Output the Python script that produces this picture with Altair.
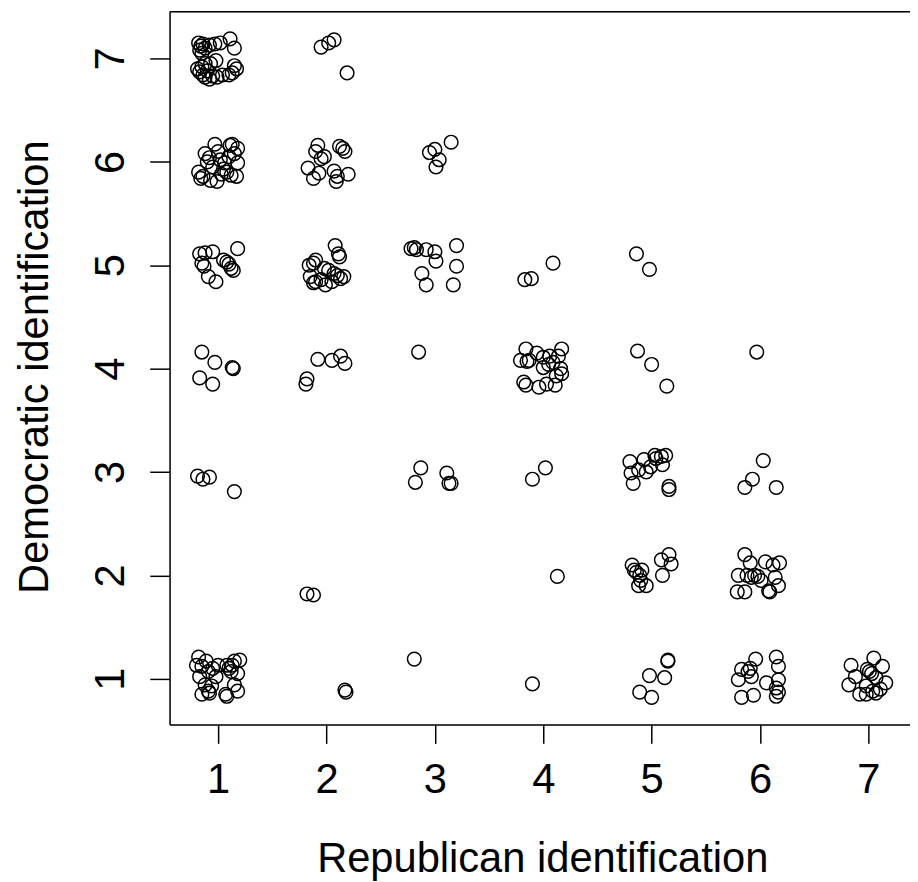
import altair as alt
import pandas as pd

# Jittered scatter: Republican identification (x) vs Democratic identification (y)
republican = [
    # (1,7)
    0.82, 0.84, 0.83, 0.86, 0.88, 0.92, 0.97, 1.02, 1.11, 1.15, 0.85,
    0.81, 0.83, 0.85, 0.86, 0.88, 0.90, 0.93, 0.95, 0.98, 0.99, 1.04, 1.10, 1.13, 1.15, 1.17, 0.88, 0.92,
    # (2,7)
    1.95, 2.02, 2.07, 2.19,
    # (1,6)
    0.82, 0.84, 0.86, 0.88, 0.90, 0.92, 0.95, 0.97, 0.99, 1.00, 1.02, 1.05, 1.08, 1.10, 1.12, 1.13,
    1.15, 1.17, 1.18, 1.18, 1.11, 1.06, 0.93, 1.03,
    # (2,6)
    1.83, 1.88, 1.90, 1.92, 1.93, 1.98, 2.07, 2.09, 2.12, 2.15, 2.17, 2.20, 2.10, 1.95,
    # (3,6)
    2.95, 3.00, 3.15, 3.04, 3.01,
    # (1,5)
    0.83, 0.88, 0.95, 1.18, 0.85, 0.87, 1.05, 1.08, 1.14, 1.12, 0.91, 0.98, 1.10,
    # (2,5)
    2.08, 2.11, 2.12, 1.84, 1.88, 1.90, 1.85, 1.88, 1.98, 2.02, 2.07, 2.13, 1.99, 2.05, 2.16, 1.95, 1.90, 2.10,
    # (3,5)
    2.78, 2.83, 2.92, 3.00, 3.01, 3.20, 3.20, 2.88, 2.92, 3.17, 2.81,
    # (4,5)
    3.83, 3.89, 4.09,
    # (5,5)
    4.86, 4.98,
    # (1,4)
    0.85, 0.97, 1.14, 1.13, 0.83, 0.95,
    # (2,4)
    1.92, 2.05, 2.13, 2.17, 1.82, 1.81,
    # (3,4)
    2.85,
    # (4,4)
    3.84, 3.94, 4.17, 3.79, 3.85, 4.00, 4.06, 4.00, 4.09, 4.16, 3.84, 3.96, 4.03, 4.11, 4.17, 3.82,
    4.12, 4.05, 3.87, 4.14,
    # (5,4)
    4.87, 5.00, 5.14,
    # (6,4)
    5.97,
    # (1,3)
    0.81, 0.86, 0.92, 1.15,
    # (3,3)
    2.87, 2.82, 3.11, 3.13, 3.15,
    # (4,3)
    3.90, 4.02,
    # (5,3)
    4.80, 4.81, 4.83, 4.93, 4.95, 5.03, 5.09, 5.13, 5.10, 5.16, 5.16, 5.04, 4.88, 4.99,
    # (6,3)
    6.03, 5.93, 5.86, 6.15,
    # (2,2)
    1.82, 1.88,
    # (4,2)
    4.13,
    # (5,2)
    4.82, 4.86, 4.89, 4.91, 4.88, 4.95, 5.09, 5.16, 5.18, 5.10, 4.84, 4.90,
    # (6,2)
    5.86, 5.91, 6.05, 6.12, 6.18, 5.80, 5.88, 5.95, 6.01, 6.14, 6.17, 5.79, 5.86, 6.08, 6.09, 5.98, 5.92,
    # (1,1)
    0.82, 0.80, 0.89, 1.00, 1.08, 1.15, 1.20, 0.83, 0.91, 0.98, 1.12, 1.18, 0.85, 0.91, 0.94, 1.08,
    1.18, 1.15, 0.88, 0.85, 1.10, 0.95, 1.07, 0.92, 1.13,
    # (2,1)
    2.17, 2.18,
    # (3,1)
    2.81,
    # (4,1)
    3.90,
    # (5,1)
    5.15, 5.15, 4.98, 5.12, 4.89, 5.00,
    # (6,1)
    5.96, 6.15, 6.17, 5.83, 5.89, 5.92, 5.80, 6.06, 6.17, 6.15, 6.15, 5.83, 5.94, 5.91, 6.17,
    # (7,1)
    6.84, 7.05, 7.13, 6.99, 7.01, 6.88, 6.82, 7.07, 7.16, 6.92, 6.98, 7.07, 6.98, 7.11, 7.03, 7.04,
]

democratic = [
    # (1,7)
    7.15, 7.12, 7.08, 7.14, 7.10, 7.13, 7.14, 7.15, 7.19, 7.10, 7.05,
    6.90, 6.87, 6.92, 6.84, 6.82, 6.88, 6.95, 6.83, 6.98, 6.82, 6.84, 6.84, 6.86, 6.93, 6.90, 6.95, 6.80,
    # (2,7)
    7.11, 7.15, 7.18, 6.86,
    # (1,6)
    5.90, 5.84, 5.86, 6.08, 6.00, 6.04, 5.95, 6.17, 5.81, 6.10, 6.02, 5.93, 5.90, 6.05, 5.87, 6.17,
    6.08, 5.86, 6.13, 5.99, 6.16, 5.99, 5.82, 5.88,
    # (2,6)
    5.94, 5.84, 6.10, 6.16, 5.89, 6.05, 5.91, 5.81, 6.15, 6.13, 6.10, 5.88, 5.86, 6.03,
    # (3,6)
    6.09, 6.12, 6.19, 6.02, 5.95,
    # (1,5)
    5.11, 5.12, 5.13, 5.16, 5.02, 4.99, 5.05, 5.03, 4.95, 4.97, 4.89, 4.84, 5.01,
    # (2,5)
    5.19, 5.11, 5.08, 5.00, 5.02, 5.05, 4.89, 4.83, 4.97, 4.95, 4.92, 4.87, 4.81, 4.84, 4.89, 4.86, 4.84, 4.90,
    # (3,5)
    5.16, 5.15, 5.15, 5.13, 5.04, 5.19, 4.99, 4.92, 4.81, 4.81, 5.17,
    # (4,5)
    4.86, 4.87, 5.02,
    # (5,5)
    5.11, 4.96,
    # (1,4)
    4.16, 4.06, 4.00, 4.01, 3.91, 3.85,
    # (2,4)
    4.09, 4.08, 4.12, 4.05, 3.90, 3.85,
    # (3,4)
    4.16,
    # (4,4)
    4.19, 4.15, 4.19, 4.08, 4.07, 4.11, 4.12, 4.01, 4.06, 4.00, 3.84, 3.82, 3.85, 3.84, 3.95, 3.87,
    3.93, 4.04, 4.08, 4.12,
    # (5,4)
    4.17, 4.04, 3.83,
    # (6,4)
    4.16,
    # (1,3)
    2.96, 2.93, 2.95, 2.81,
    # (3,3)
    3.04, 2.90, 2.99, 2.89, 2.89,
    # (4,3)
    2.93, 3.04,
    # (5,3)
    3.10, 2.99, 2.89, 3.12, 3.00, 3.16, 3.15, 3.16, 3.07, 2.86, 2.83, 3.13, 3.02, 3.05,
    # (6,3)
    3.11, 2.93, 2.85, 2.85,
    # (2,2)
    1.82, 1.81,
    # (4,2)
    1.99,
    # (5,2)
    2.10, 2.03, 2.00, 2.05, 1.90, 1.90, 2.15, 2.20, 2.11, 2.00, 2.05, 1.95,
    # (6,2)
    2.20, 2.12, 2.13, 2.10, 2.12, 2.00, 2.00, 2.00, 1.95, 1.98, 1.90, 1.84, 1.84, 1.85, 1.84, 1.99, 1.98,
    # (1,1)
    1.21, 1.13, 1.17, 1.13, 1.13, 1.17, 1.18, 1.02, 1.07, 1.02, 1.07, 1.05, 0.85, 0.88, 0.93, 0.83,
    0.88, 0.94, 0.94, 1.12, 1.10, 1.10, 0.85, 0.86, 1.13,
    # (2,1)
    0.89, 0.87,
    # (3,1)
    1.19,
    # (4,1)
    0.95,
    # (5,1)
    1.18, 1.17, 1.03, 1.01, 0.87, 0.82,
    # (6,1)
    1.19, 1.21, 1.12, 1.09, 1.07, 1.02, 0.99, 0.96, 0.99, 0.91, 0.83, 0.82, 0.84, 1.10, 0.87,
    # (7,1)
    1.13, 1.20, 1.12, 1.09, 1.07, 1.02, 0.94, 1.01, 0.96, 0.85, 0.85, 0.86, 0.93, 0.90, 1.05, 0.88,
]

tick_values = [1, 2, 3, 4, 5, 6, 7]

df = pd.DataFrame({"rep": republican, "dem": democratic})

FONT = "Liberation Sans"
W, H = 747, 719

points = alt.Chart(df).mark_point(
    shape="circle", filled=False, color="black", size=190, strokeWidth=1.5, opacity=1
).encode(
    x=alt.X(
        "rep:Q",
        scale=alt.Scale(domain=[0.552, 7.384], nice=False, zero=False),
        axis=alt.Axis(
            values=tick_values, title="Republican identification", grid=False,
            labelFontSize=42, labelFont=FONT, labelColor="black", labelFlush=False,
            labelOverlap=False, tickSize=19, tickWidth=1.5, tickColor="black",
            labelPadding=17, domainColor="black", domainWidth=1.5,
            titleFont=FONT, titleFontSize=42, titleFontWeight="normal", titleColor="black",
            titleX=376, titleY=148, titleBaseline="alphabetic", titleAlign="center",
            format="d",
        ),
    ),
    y=alt.Y(
        "dem:Q",
        scale=alt.Scale(domain=[0.557, 7.451], nice=False, zero=False),
        axis=alt.Axis(
            values=tick_values, title="Democratic identification", grid=False,
            labelFontSize=42, labelFont=FONT, labelColor="black", labelAngle=270,
            labelAlign="center", labelBaseline="alphabetic", labelOverlap=False,
            labelFlush=False,
            tickSize=20, tickWidth=1.5, tickColor="black", labelPadding=26,
            domainColor="black", domainWidth=1.5,
            titleFont=FONT, titleFontSize=42, titleFontWeight="normal", titleColor="black",
            titleAngle=270, titleX=-123, titleY=358, titleBaseline="alphabetic",
            titleAlign="center", format="d",
        ),
    ),
)

top_line = alt.Chart(pd.DataFrame({"a": [0]})).mark_rule(
    color="black", strokeWidth=1.5
).encode(x=alt.value(0), x2=alt.value(W), y=alt.value(0))

chart = alt.layer(points, top_line).properties(
    width=W, height=H,
    autosize=alt.AutoSizeParams(type="none"),
    padding={"left": 163, "top": 0, "right": 0, "bottom": 155},
).configure_view(stroke=None).configure(background="white")

chart.save("out.html", embed_options={"renderer": "svg", "actions": False})
